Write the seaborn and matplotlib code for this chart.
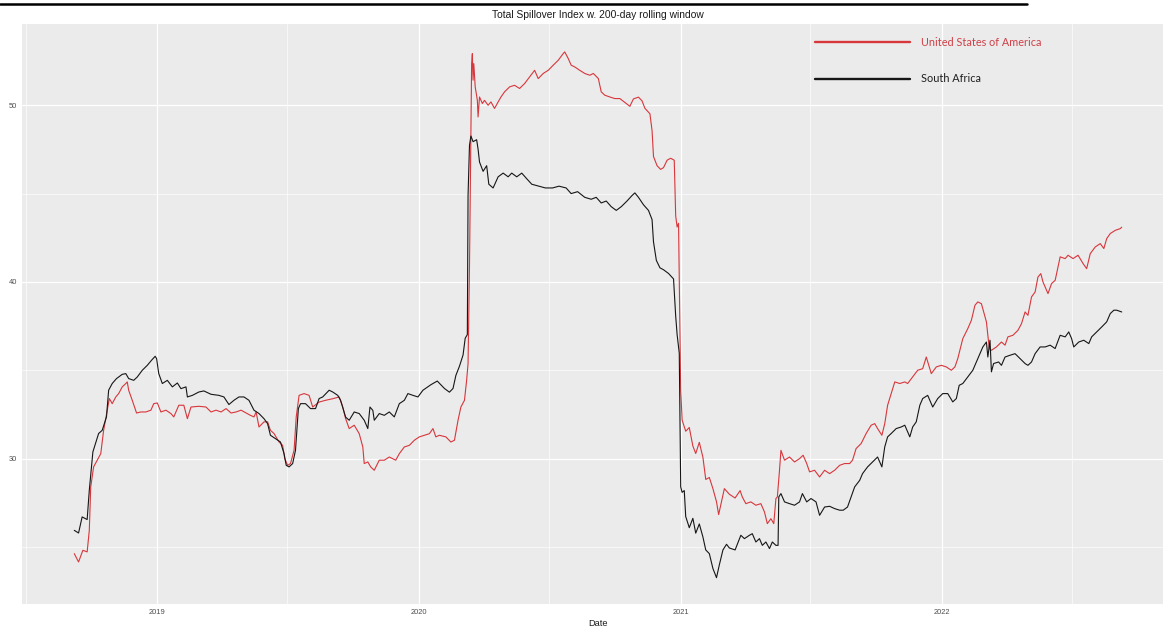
import pandas as pd
import matplotlib
matplotlib.use("Agg")
import matplotlib.pyplot as plt
from matplotlib.lines import Line2D
from matplotlib.ticker import FixedLocator
import seaborn as sns

TITLE = "Total Spillover Index w. 200-day rolling window"
X_LABEL = "Date"
SERIES = ["United States of America", "South Africa"]
YEAR_TICKS = ["2019", "2020", "2021", "2022"]
Y_TICKS = [30, 40, 50]
Y_MINOR = [25, 35, 45]

# day offsets are counted from this date
ORIGIN = "2019-01-01"

usa_day = [
    -116, -110, -104, -98, -95, -93, -89, -84, -79, -75, -70, -67, -63, -58, -54, -49, -45, -42, -40, -35,
    -29, -23, -16, -9, -5, 0, 5, 12, 19, 23, 30, 37, 42, 47, 58, 68, 75, 82, 89, 96,
    103, 110, 117, 124, 130, 135, 138, 142, 149, 154, 158, 163, 170, 175, 178, 182, 186, 191, 194, 198,
    205, 212, 217, 226, 235, 245, 254, 259, 263, 268, 275, 282, 287, 289, 294, 298, 303, 310, 317, 324,
    333, 338, 345, 352, 359, 366, 373, 380, 385, 389, 394, 403, 410, 415, 420, 424, 429, 432, 434, 436,
    439, 440, 441, 442, 444, 447, 448, 450, 454, 457, 462, 466, 471, 476, 480, 485, 492, 499, 506, 513,
    520, 527, 532, 539, 546, 553, 560, 567, 569, 574, 578, 583, 590, 597, 604, 609, 616, 620, 625, 632,
    639, 646, 660, 665, 672, 677, 681, 688, 691, 693, 698, 703, 707, 712, 717, 722, 723, 724, 726, 728,
    729, 731, 733, 738, 743, 748, 752, 757, 762, 766, 771, 776, 781, 784, 788, 792, 799, 807, 814, 817,
    822, 829, 836, 843, 848, 852, 857, 861, 864, 866, 869, 871, 876, 883, 890, 897, 902, 907, 911, 918,
    925, 932, 939, 946, 953, 960, 967, 971, 976, 983, 990, 997, 1002, 1006, 1012, 1016, 1020, 1025, 1030, 1037,
    1044, 1048, 1055, 1062, 1069, 1074, 1081, 1088, 1095, 1102, 1109, 1114, 1118, 1125, 1132, 1137, 1142, 1146, 1151, 1156,
    1158, 1162, 1165, 1172, 1179, 1184, 1188, 1195, 1202, 1207, 1212, 1216, 1221, 1226, 1230, 1234, 1237, 1244, 1249, 1254,
    1261, 1268, 1272, 1279, 1286, 1293, 1298, 1303, 1310, 1317, 1322, 1326, 1331, 1338, 1345, 1347,
]
usa_index = [
    24.62, 24.15, 24.81, 24.72, 25.94, 28.40, 29.53, 29.91, 30.28, 31.60, 32.74, 33.40, 33.11, 33.49, 33.68, 34.06, 34.21, 34.34, 33.87, 33.30,
    32.58, 32.64, 32.64, 32.74, 33.11, 33.15, 32.64, 32.74, 32.55, 32.36, 33.02, 33.02, 32.26, 32.92, 32.96, 32.92, 32.64, 32.74, 32.64, 32.83,
    32.58, 32.64, 32.74, 32.58, 32.45, 32.36, 32.64, 31.79, 32.08, 32.08, 31.60, 31.42, 30.94, 30.75, 30.00, 29.62, 29.72, 30.47, 32.36, 33.58,
    33.68, 33.58, 32.92, 33.20, 33.30, 33.39, 33.49, 32.92, 32.26, 31.70, 31.89, 31.41, 30.66, 29.72, 29.81, 29.53, 29.34, 29.91, 29.91, 30.09,
    29.91, 30.28, 30.66, 30.75, 31.04, 31.23, 31.32, 31.41, 31.70, 31.23, 31.32, 31.23, 30.94, 31.04, 32.17, 32.92, 33.30, 34.43, 35.37, 40.85,
    52.36, 52.92, 51.42, 52.36, 51.04, 50.28, 49.34, 50.47, 50.10, 50.28, 50.00, 50.19, 49.82, 50.19, 50.47, 50.76, 51.04, 51.13, 50.95, 51.23,
    51.61, 51.98, 51.51, 51.80, 51.98, 52.27, 52.55, 52.93, 53.02, 52.64, 52.27, 52.17, 51.98, 51.80, 51.70, 51.80, 51.51, 50.76, 50.57, 50.47,
    50.38, 50.38, 49.94, 50.36, 50.46, 50.25, 49.83, 49.52, 48.57, 47.10, 46.58, 46.37, 46.47, 46.89, 47.00, 46.89, 45.42, 43.74, 43.11, 43.32,
    40.17, 33.87, 32.18, 31.55, 31.76, 30.71, 30.29, 30.92, 30.08, 28.82, 28.93, 28.30, 27.56, 26.83, 27.56, 28.30, 27.98, 27.77, 28.19, 27.83,
    27.45, 27.55, 27.36, 27.45, 26.98, 26.32, 26.60, 26.32, 27.74, 27.83, 29.34, 30.47, 29.91, 30.09, 29.81, 30.00, 30.19, 29.72, 29.25, 29.34,
    28.96, 29.34, 29.15, 29.34, 29.62, 29.72, 29.72, 29.91, 30.57, 30.85, 31.42, 31.89, 31.98, 31.70, 31.32, 31.98, 33.02, 33.68, 34.34, 34.25,
    34.34, 34.25, 34.62, 35.00, 35.09, 35.75, 34.81, 35.19, 35.28, 35.19, 35.00, 35.19, 35.66, 36.79, 37.36, 37.83, 38.68, 38.87, 38.77, 38.02,
    37.74, 36.23, 36.13, 36.32, 36.60, 36.42, 36.89, 36.98, 37.26, 37.64, 38.30, 38.11, 39.15, 39.43, 40.28, 40.47, 40.00, 39.34, 39.91, 40.09,
    41.42, 41.32, 41.51, 41.32, 41.51, 41.04, 40.75, 41.60, 41.98, 42.17, 41.89, 42.45, 42.74, 42.92, 43.02, 43.10,
]

rsa_day = [
    -116, -110, -105, -98, -95, -90, -82, -77, -71, -68, -63, -57, -54, -49, -44, -40, -33, -28, -21, -14,
    -8, -3, -1, 2, 7, 14, 21, 28, 33, 40, 42, 49, 58, 65, 75, 86, 93, 100, 107, 114,
    121, 128, 135, 142, 149, 154, 158, 165, 172, 177, 180, 184, 189, 193, 197, 200, 207, 214, 221, 226,
    231, 240, 245, 252, 256, 263, 268, 275, 282, 289, 294, 297, 301, 303, 310, 317, 324, 331, 338, 345,
    350, 357, 364, 371, 382, 391, 401, 408, 413, 417, 422, 427, 430, 433, 434, 436, 438, 441, 446, 448,
    450, 455, 460, 463, 469, 476, 483, 490, 495, 502, 509, 516, 523, 533, 542, 552, 561, 571, 578, 587,
    597, 606, 613, 620, 627, 634, 641, 648, 656, 663, 667, 672, 679, 686, 691, 693, 697, 702, 707, 714,
    721, 724, 726, 729, 730, 731, 733, 736, 738, 743, 748, 752, 757, 762, 766, 771, 776, 781, 785, 790,
    795, 799, 807, 815, 820, 827, 831, 836, 841, 845, 850, 855, 859, 864, 867, 868, 871, 876, 883, 890,
    897, 901, 907, 913, 920, 925, 932, 939, 946, 953, 958, 964, 969, 974, 981, 985, 992, 999, 1006, 1012,
    1016, 1020, 1025, 1032, 1039, 1044, 1051, 1055, 1060, 1065, 1069, 1076, 1083, 1090, 1097, 1104, 1111, 1116, 1120, 1125,
    1132, 1139, 1146, 1153, 1158, 1160, 1163, 1165, 1168, 1175, 1179, 1184, 1191, 1198, 1205, 1212, 1216, 1221, 1226, 1233,
    1240, 1247, 1254, 1261, 1268, 1273, 1277, 1280, 1287, 1294, 1301, 1305, 1312, 1319, 1326, 1331, 1336, 1340, 1347,
]
rsa_index = [
    25.94, 25.79, 26.70, 26.55, 28.21, 30.38, 31.42, 31.60, 32.36, 33.87, 34.25, 34.53, 34.62, 34.77, 34.81, 34.53, 34.43, 34.62, 35.00, 35.28,
    35.57, 35.79, 35.66, 34.81, 34.25, 34.43, 34.06, 34.28, 33.96, 34.06, 33.49, 33.58, 33.77, 33.83, 33.64, 33.58, 33.49, 33.06, 33.30, 33.49,
    33.49, 33.30, 32.74, 32.55, 32.26, 31.98, 31.32, 31.13, 30.94, 30.28, 29.62, 29.53, 29.72, 30.47, 32.83, 33.11, 33.11, 32.83, 32.83, 33.40,
    33.49, 33.87, 33.77, 33.58, 33.30, 32.35, 32.17, 32.64, 32.55, 32.17, 31.70, 32.92, 32.73, 32.17, 32.55, 32.45, 32.64, 32.36, 33.11, 33.30,
    33.68, 33.58, 33.49, 33.87, 34.18, 34.39, 33.97, 33.76, 33.97, 34.71, 35.23, 35.86, 36.81, 37.02, 44.89, 47.73, 48.26, 47.94, 48.05, 47.52,
    46.79, 46.26, 46.58, 45.53, 45.32, 45.95, 46.16, 45.95, 46.16, 45.95, 46.16, 45.84, 45.53, 45.42, 45.32, 45.32, 45.42, 45.32, 45.00, 45.11,
    44.79, 44.68, 44.79, 44.47, 44.58, 44.26, 44.05, 44.26, 44.58, 44.89, 45.04, 44.79, 44.37, 44.05, 43.53, 42.27, 41.22, 40.80, 40.69, 40.48,
    40.17, 38.07, 37.02, 35.97, 32.18, 28.40, 28.09, 28.19, 26.72, 26.09, 26.62, 25.78, 26.30, 25.57, 24.83, 24.62, 23.78, 23.26, 23.99, 24.83,
    25.15, 24.94, 24.83, 25.66, 25.47, 25.66, 25.75, 25.28, 25.47, 25.09, 25.28, 24.91, 25.28, 25.09, 25.09, 27.83, 28.02, 27.55, 27.45, 27.36,
    27.55, 28.02, 27.55, 27.74, 27.55, 26.79, 27.26, 27.30, 27.17, 27.08, 27.08, 27.26, 27.83, 28.40, 28.77, 29.15, 29.53, 29.81, 30.09, 29.53,
    30.66, 31.23, 31.42, 31.70, 31.79, 31.89, 31.23, 31.79, 32.08, 33.02, 33.40, 33.58, 32.92, 33.40, 33.68, 33.68, 33.21, 33.40, 34.15, 34.25,
    34.62, 35.00, 35.66, 36.32, 36.60, 35.75, 36.70, 34.91, 35.38, 35.47, 35.28, 35.75, 35.85, 35.94, 35.66, 35.38, 35.28, 35.47, 35.94, 36.32,
    36.32, 36.42, 36.23, 36.98, 36.89, 37.17, 36.79, 36.32, 36.60, 36.70, 36.51, 36.89, 37.17, 37.45, 37.74, 38.21, 38.40, 38.40, 38.30,
]

LINE_COLORS = {"United States of America": "#d8363b", "South Africa": "#161616"}
LEGEND_TEXT_COLORS = {"United States of America": "#cf3f47", "South Africa": "#1e1e1e"}

origin = pd.Timestamp(ORIGIN)
frames = []
for name, days, vals in [(SERIES[0], usa_day, usa_index), (SERIES[1], rsa_day, rsa_index)]:
    frames.append(pd.DataFrame({
        "date": origin + pd.to_timedelta(days, unit="D"),
        "index": vals,
        "country": name,
    }))
df = pd.concat(frames, ignore_index=True)

sns.set_theme(style="darkgrid", rc={
    "axes.facecolor": "#EBEBEB",
    "grid.color": "white",
    "axes.edgecolor": "#EBEBEB",
})
plt.rcParams["font.family"] = ["Liberation Sans", "DejaVu Sans"]

W, H = 1163, 628
fig = plt.figure(figsize=(W / 100, H / 100), dpi=100)
fig.patch.set_facecolor("white")

# panel in pixel units; it runs past the right border of the image
left, right, top, bottom = 22, 1174, 24, 604
ax = fig.add_axes([left / W, 1 - bottom / H, (right - left) / W, (bottom - top) / H])

sns.lineplot(data=df, x="date", y="index", hue="country", hue_order=SERIES,
             palette=LINE_COLORS, estimator=None, linewidth=0.8, legend=False, ax=ax)

ax.set_xlim(origin + pd.Timedelta(days=-189), origin + pd.Timedelta(days=1420))
ax.set_ylim(21.77, 54.6)

ax.set_xticks([pd.Timestamp(f"{y}-01-01") for y in YEAR_TICKS], labels=YEAR_TICKS)
ax.xaxis.set_minor_locator(FixedLocator(
    [matplotlib.dates.date2num(pd.Timestamp(f"{y}-07-01")) for y in range(2018, 2023)]))
ax.set_yticks(Y_TICKS, labels=[str(v) for v in Y_TICKS])
ax.yaxis.set_minor_locator(FixedLocator(Y_MINOR))

ax.grid(which="major", color="white", linewidth=0.9)
ax.grid(which="minor", color="white", linewidth=0.45)
ax.tick_params(which="major", length=2.4, width=0.6, color="#4d4d4d",
               labelsize=5.4, labelcolor="#4d4d4d", pad=1.2)
ax.tick_params(which="minor", length=0)
for s in ax.spines.values():
    s.set_visible(False)

ax.set_xlabel(X_LABEL, fontsize=6.6, color="#1a1a1a", labelpad=2)
ax.set_ylabel("")
ax.set_title(TITLE, fontsize=7.4, color="#1a1a1a", pad=4)

handles = [Line2D([], [], color=LINE_COLORS[n], linewidth=1.7) for n in SERIES]
leg = ax.legend(handles, SERIES, loc="upper left",
                bbox_to_anchor=(815 / W, 1 - 37 / H), bbox_transform=fig.transFigure,
                frameon=False, prop={"family": "Lato", "size": 7.8},
                handlelength=8.8, handletextpad=1.0, labelspacing=2.35,
                borderpad=0, borderaxespad=0)
for txt, n in zip(leg.get_texts(), SERIES):
    txt.set_color(LEGEND_TEXT_COLORS[n])

# rule across the top edge of the page
fig.add_artist(Line2D([0, 1027 / W], [1 - 3.5 / H, 1 - 3.5 / H], color="black",
                      linewidth=1.8, transform=fig.transFigure))

fig.savefig("out.png", dpi=100)
